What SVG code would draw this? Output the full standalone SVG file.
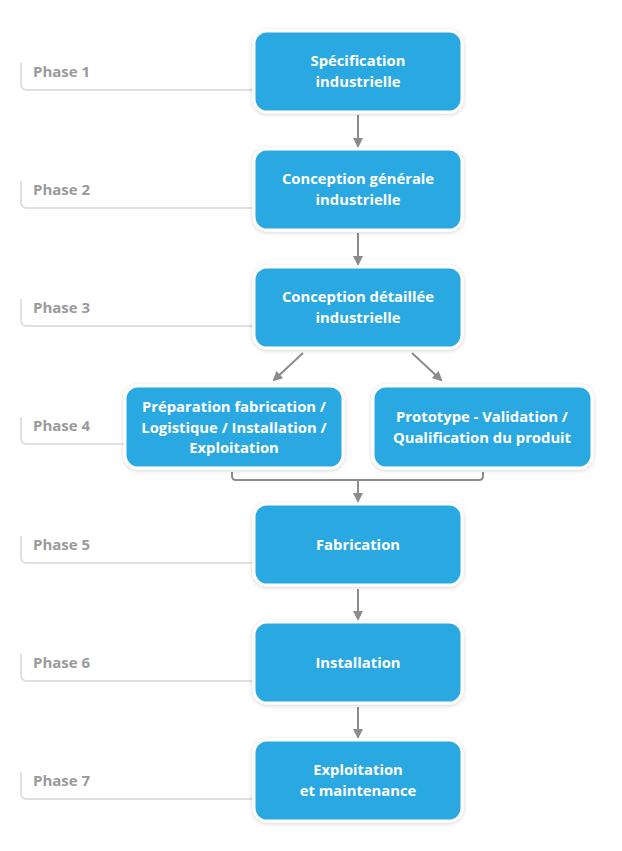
<svg xmlns="http://www.w3.org/2000/svg" width="622" height="851" viewBox="0 0 622 851">
<style>
.box{fill:#29a8e1;stroke:#ffffff;stroke-width:3;filter:url(#sh)}
.t{font-family:"Open Sans","Noto Sans",sans-serif;font-weight:700;font-size:14.8px;fill:#ffffff;text-anchor:middle}
.ph{font-family:"Open Sans","Noto Sans",sans-serif;font-weight:700;font-size:15px;fill:#9a9a9a}
.br{fill:none;stroke:#e0e0e0;stroke-width:2}
.c{fill:none;stroke:#8c8c8c;stroke-width:2}
</style>
<defs>
<filter id="sh" x="-10%" y="-20%" width="120%" height="140%">
<feDropShadow dx="0" dy="1" stdDeviation="2" flood-color="#000" flood-opacity="0.18"/>
</filter>
<marker id="ah" markerWidth="10" markerHeight="10" refX="8" refY="5" orient="auto" markerUnits="userSpaceOnUse" viewBox="0 0 10 10">
<path d="M0,0 L10,5 L0,10 z" fill="#8c8c8c"/>
</marker>
</defs>
<rect width="622" height="851" fill="#ffffff"/>
<g id="phases">
<g id="phase1"><path class="br" d="M21 63 V84 Q21 90 27 90 H253"/><text class="ph" x="33" y="77">Phase 1</text></g>
<g id="phase2"><path class="br" d="M21 181 V202 Q21 208 27 208 H253"/><text class="ph" x="33" y="195">Phase 2</text></g>
<g id="phase3"><path class="br" d="M21 299 V320 Q21 326 27 326 H253"/><text class="ph" x="33" y="313">Phase 3</text></g>
<g id="phase4"><path class="br" d="M21 417 V438 Q21 444 27 444 H125"/><text class="ph" x="33" y="431">Phase 4</text></g>
<g id="phase5"><path class="br" d="M21 536 V557 Q21 563 27 563 H253"/><text class="ph" x="33" y="550">Phase 5</text></g>
<g id="phase6"><path class="br" d="M21 654 V675 Q21 681 27 681 H253"/><text class="ph" x="33" y="668">Phase 6</text></g>
<g id="phase7"><path class="br" d="M21 772 V793 Q21 799 27 799 H253"/><text class="ph" x="33" y="786">Phase 7</text></g>
</g>
<g id="connectors">
<line class="c" x1="358" y1="115" x2="358" y2="146" marker-end="url(#ah)"/>
<line class="c" x1="358" y1="233" x2="358" y2="264" marker-end="url(#ah)"/>
<line class="c" x1="303" y1="353" x2="274" y2="380" marker-end="url(#ah)"/>
<line class="c" x1="412" y1="353" x2="441" y2="380" marker-end="url(#ah)"/>
<path class="c" d="M232 472 V476 Q232 480 236 480 H479 Q483 480 483 476 V472"/>
<line class="c" x1="358" y1="480" x2="358" y2="501" marker-end="url(#ah)"/>
<line class="c" x1="358" y1="589" x2="358" y2="619" marker-end="url(#ah)"/>
<line class="c" x1="358" y1="707" x2="358" y2="737" marker-end="url(#ah)"/>
</g>
<g id="n1"><rect class="box" x="254" y="31" width="208" height="81" rx="13"/><text class="t" x="358" y="66">Spécification</text><text class="t" x="358" y="86.5">industrielle</text></g>
<g id="n2"><rect class="box" x="254" y="149" width="208" height="81" rx="13"/><text class="t" x="358" y="184">Conception générale</text><text class="t" x="358" y="204.5">industrielle</text></g>
<g id="n3"><rect class="box" x="254" y="267" width="208" height="81" rx="13"/><text class="t" x="358" y="302">Conception détaillée</text><text class="t" x="358" y="322.5">industrielle</text></g>
<g id="n4a"><rect class="box" x="125" y="386" width="218" height="82" rx="13"/><text class="t" x="234" y="412">Préparation fabrication /</text><text class="t" x="234" y="432.5">Logistique / Installation /</text><text class="t" x="234" y="453">Exploitation</text></g>
<g id="n4b"><rect class="box" x="373" y="386" width="219" height="82" rx="13"/><text class="t" x="482" y="422">Prototype - Validation /</text><text class="t" x="482" y="442.5">Qualification du produit</text></g>
<g id="n5"><rect class="box" x="254" y="504" width="208" height="81" rx="13"/><text class="t" x="358" y="550">Fabrication</text></g>
<g id="n6"><rect class="box" x="254" y="622" width="208" height="81" rx="13"/><text class="t" x="358" y="668">Installation</text></g>
<g id="n7"><rect class="box" x="254" y="740" width="208" height="81" rx="13"/><text class="t" x="358" y="775">Exploitation</text><text class="t" x="358" y="795.5">et maintenance</text></g>
</svg>
